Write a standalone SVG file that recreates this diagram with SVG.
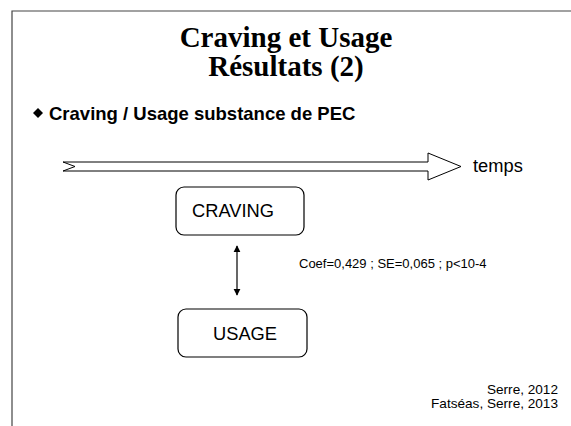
<svg xmlns="http://www.w3.org/2000/svg" width="571" height="426" viewBox="0 0 571 426">
  <style>
    .frame { stroke: #444; stroke-width: 1.2; fill: none; }
    .title { font-family: "Liberation Serif", "Times New Roman", serif; font-weight: bold; font-size: 29px; fill: #000; text-anchor: middle; }
    .bullet { font-family: "Liberation Sans", Arial, sans-serif; font-weight: bold; font-size: 18.5px; fill: #000; }
    .label { font-family: "Liberation Sans", Arial, sans-serif; font-size: 18.3px; fill: #000; }
    .small { font-family: "Liberation Sans", Arial, sans-serif; font-size: 13px; fill: #000; }
    .ref { font-family: "Liberation Sans", Arial, sans-serif; font-size: 13.6px; fill: #000; text-anchor: end; }
    .box { fill: #fff; stroke: #000; stroke-width: 1.2; }
    .conn { stroke: #000; stroke-width: 1.2; fill: none; }
  </style>
  <defs>
    <marker id="ah" viewBox="0 0 10 10" refX="9" refY="5" markerWidth="7" markerHeight="8" orient="auto-start-reverse" markerUnits="userSpaceOnUse">
      <path d="M0,0 L10,5 L0,10 z" fill="#000"/>
    </marker>
  </defs>
  <rect width="571" height="426" fill="#fff"/>
  <path class="frame" d="M12,426 L12,11 L571,11"/>
  <g id="title">
    <text class="title" x="286" y="47">Craving et Usage</text>
    <text class="title" x="286" y="76">Résultats (2)</text>
  </g>
  <g id="bullet">
    <path d="M33,113 L38,108 L43,113 L38,118 z" fill="#000"/>
    <text class="bullet" x="49" y="120">Craving / Usage substance de PEC</text>
  </g>
  <g id="timeline">
    <polygon points="63,162 428,162 428,153 461,166.5 428,180 428,171 63,171 75,166.5" fill="#fff" stroke="#000" stroke-width="1"/>
    <text class="label" x="473" y="172">temps</text>
  </g>
  <g id="craving">
    <rect class="box" x="176" y="187" width="128" height="48" rx="8"/>
    <text class="label" x="192" y="217">CRAVING</text>
  </g>
  <g id="usage">
    <rect class="box" x="178" y="309" width="129" height="48" rx="8"/>
    <text class="label" x="213" y="340">USAGE</text>
  </g>
  <g id="connectors">
    <line class="conn" x1="237" y1="246" x2="237" y2="295" marker-start="url(#ah)" marker-end="url(#ah)"/>
    <text class="small" x="299" y="268">Coef=0,429 ; SE=0,065 ; p&lt;10-4</text>
  </g>
  <g id="refs">
    <text class="ref" x="558" y="394">Serre, 2012</text>
    <text class="ref" x="558" y="408">Fatséas, Serre, 2013</text>
  </g>
</svg>
